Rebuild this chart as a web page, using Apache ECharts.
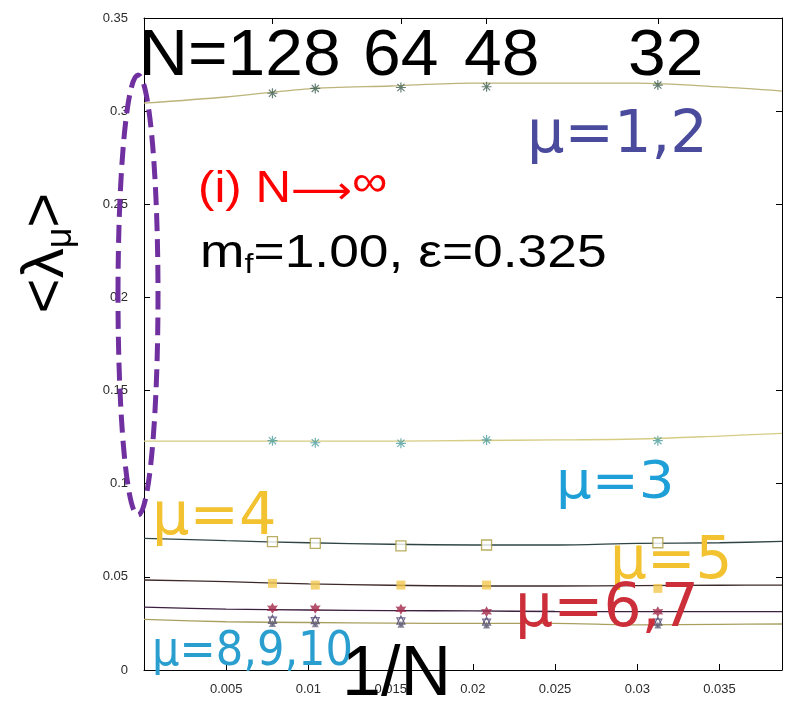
<!DOCTYPE html>
<html>
<head>
<meta charset="utf-8">
<script src="https://cdn.jsdelivr.net/npm/echarts@6/dist/echarts.min.js"></script>
<style>html,body{margin:0;padding:0;background:#fff}#c{width:788px;height:707px}</style>
</head>
<body>
<div id="c"></div>
<script>
// ---- data ----
const Ns = [128, 96, 64, 48, 32];
const invN = Ns.map(n => 1 / n);
const topTickNs = [128, 64, 48, 32];
const fitX = [0, 0.005, 0.01, 0.015, 0.02, 0.025, 0.03, 0.035, 0.0388];

const mu12 = [0.3096, 0.3122, 0.3127, 0.3131, 0.3140];
const mu3 = [0.1231, 0.1220, 0.1217, 0.1235, 0.1231];
const mu4 = [0.0689, 0.0680, 0.0666, 0.0671, 0.0683];
const mu5 = [0.0465, 0.0456, 0.0456, 0.0456, 0.0438];
const mu67 = [0.0331, 0.0331, 0.0326, 0.0313, 0.0313];
const mu8 = [0.0272, 0.0270, 0.0268, 0.0262, 0.0262];
const mu9 = [0.0262, 0.0260, 0.0258, 0.0252, 0.0252];
const mu10 = [0.0250, 0.0248, 0.0246, 0.0242, 0.0242];

const fit12 = [0.3043, 0.3076, 0.3120, 0.3135, 0.3150, 0.3150, 0.3150, 0.3130, 0.3108];
const fit3 = [0.1229, 0.1229, 0.1229, 0.1229, 0.1232, 0.1235, 0.1240, 0.1256, 0.1270];
const fit4 = [0.0707, 0.0694, 0.0683, 0.0675, 0.0671, 0.0671, 0.0680, 0.0683, 0.0690];
const fit5 = [0.0483, 0.0474, 0.0462, 0.0455, 0.0451, 0.0451, 0.0453, 0.0455, 0.0456];
const fit67 = [0.0337, 0.0327, 0.0322, 0.0319, 0.0317, 0.0314, 0.0313, 0.0313, 0.0313];
const fit810 = [0.0272, 0.0259, 0.0255, 0.0252, 0.0250, 0.0250, 0.0242, 0.0245, 0.0247];

const yTicks = { min: 0, max: 0.35, step: 0.05 };
const xTicks = { min: 0, max: 0.0388, step: 0.005 };

// ---- helpers ----
const pts = (xs, ys) => xs.map((x, i) => [x, ys[i]]);
const ASTER = 'path://M0,-5L0,5M-5,0L5,0M-3.6,-3.6L3.6,3.6M-3.6,3.6L3.6,-3.6';
const STAR = 'path://M0,-6L1.6,-2.8L5.2,-3L3.2,0L5.2,3L1.6,2.8L0,6L-1.6,2.8L-5.2,3L-3.2,0L-5.2,-3L-1.6,-2.8Z';

function fitLine(ys, color) {
  return { type: 'line', data: pts(fitX, ys), symbol: 'none', smooth: 0.3,
    lineStyle: { color: color, width: 1.3 }, z: 2, silent: true };
}
function marks(ys, symbol, size, style) {
  return { type: 'scatter', data: pts(invN, ys), symbol: symbol, symbolSize: size,
    itemStyle: style, z: 3, silent: true };
}

const chart = echarts.init(document.getElementById('c'));
const tickFont = { fontFamily: 'Liberation Sans, Arial', fontSize: 13, color: '#2a2a2a' };

const AR = 'Liberation Sans, Arial, sans-serif';
const DV = 'DejaVu Sans, Verdana, sans-serif';
function txt(text, x, y, size, fam, color, extra) {
  return Object.assign({ type: 'text', x: x, y: y, z: 100,
    style: { text: text, font: size + 'px ' + fam, fill: color, align: 'left', verticalAlign: 'middle' } }, extra || {});
}

chart.setOption({
  animation: false,
  backgroundColor: '#ffffff',
  grid: { left: 144, right: 6, top: 18, bottom: 37, show: false },
  xAxis: [{
    type: 'value', min: xTicks.min, max: xTicks.max, interval: xTicks.step, position: 'bottom',
    axisLine: { show: true, lineStyle: { color: '#000', width: 1 } },
    axisTick: { show: true, inside: true, length: 6, lineStyle: { color: '#000' } },
    axisLabel: Object.assign({ margin: 13, showMaxLabel: false,
      formatter: v => (v === 0 || v > 0.036) ? '' : String(+v.toFixed(3)) }, tickFont),
    splitLine: { show: false }
  }, {
    type: 'value', min: xTicks.min, max: xTicks.max, position: 'top',
    axisLine: { show: true, onZero: false, lineStyle: { color: '#000', width: 1 } },
    axisTick: { show: true, inside: true, length: 6, customValues: topTickNs.map(n => 1 / n), lineStyle: { color: '#000' } },
    axisLabel: { show: false }, splitLine: { show: false }
  }],
  yAxis: [{
    type: 'value', min: yTicks.min, max: yTicks.max, interval: yTicks.step, position: 'left',
    axisLine: { show: true, lineStyle: { color: '#000', width: 1 } },
    axisTick: { show: true, inside: true, length: 6, lineStyle: { color: '#000' } },
    axisLabel: Object.assign({ margin: 16 }, tickFont),
    splitLine: { show: false }
  }, {
    type: 'value', min: yTicks.min, max: yTicks.max, interval: yTicks.step, position: 'right',
    axisLine: { show: true, onZero: false, lineStyle: { color: '#000', width: 1 } },
    axisTick: { show: true, inside: true, length: 6, lineStyle: { color: '#000' } },
    axisLabel: { show: false }, splitLine: { show: false }
  }],
  series: [
    fitLine(fit12, '#bdb47a'),
    fitLine(fit3, '#d6cc84'),
    fitLine(fit4, '#2f4545'),
    fitLine(fit5, '#3e2a2a'),
    fitLine(fit67, '#3d2040'),
    fitLine(fit810, '#a9a060'),
    marks(mu12, ASTER, 10, { color: 'none', borderColor: '#3f5f50', borderWidth: 1.2 }),
    marks(mu3, ASTER, 10, { color: 'none', borderColor: '#4c9c9c', borderWidth: 1.2 }),
    marks(mu4, 'rect', 10, { color: '#ffffff', borderColor: '#a89a3c', borderWidth: 1.3 }),
    marks(mu5, 'rect', 9, { color: '#f2c850' }),
    marks(mu67, STAR, 11, { color: '#a3284a' }),
    marks(mu8, 'triangle', 8, { color: 'none', borderColor: '#4a4a6a', borderWidth: 1.2 }),
    marks(mu9, 'path://M0,5L5,-4L-5,-4Z', 8, { color: 'none', borderColor: '#5a4a7a', borderWidth: 1.2 }),
    marks(mu10, 'triangle', 7, { color: '#6a6a80' })
  ],
  graphic: [
    { type: 'ellipse', shape: { cx: 138, cy: 295, rx: 20, ry: 220 }, z: 90,
      style: { fill: 'none', stroke: '#7030a0', lineWidth: 5, lineDash: [18, 8] } },
    txt('N=128', 139, 57, 64, AR, '#000', { scaleX: 1.06 }),
    txt('64', 363, 57, 64, AR, '#000', { scaleX: 1.06 }),
    txt('48', 464, 57, 64, AR, '#000', { scaleX: 1.06 }),
    txt('32', 628, 57, 64, AR, '#000', { scaleX: 1.06 }),
    txt('μ=1,2', 527, 137, 59, DV, '#4b4b9e'),
    { type: 'text', x: 198, y: 190, z: 100, scaleX: 1.12,
      style: { text: '{a|(i) N}{r|⟶}{i|∞}', align: 'left', verticalAlign: 'middle',
        rich: { a: { font: '44px ' + AR, fill: '#ff0000' },
                r: { font: '38px ' + DV, fill: '#ff0000', padding: [6, 0, 0, 0] },
                i: { font: '44px ' + AR, fill: '#ff0000', padding: [0, 0, 12, 0] } } } },
    { type: 'text', x: 200, y: 254, z: 100, scaleX: 1.16,
      style: { text: '{a|m}{s|f}{a|=1.00, ε=0.325}', align: 'left', verticalAlign: 'middle',
        rich: { a: { font: '46px ' + AR, fill: '#000' },
                s: { font: '28px ' + AR, fill: '#000', padding: [22, 0, 0, 0] } } } },
    txt('μ=3', 556, 484, 52, DV, '#1e9fd8', { scaleX: 1.08 }),
    txt('μ=4', 152, 519, 59, DV, '#f2c230'),
    txt('μ=5', 610, 563, 58, DV, '#f2c230'),
    txt('μ=6,7', 515, 610, 60, DV, '#cc2f3a'),
    txt('μ=8,9,10', 152, 653, 48, DV, '#2a9fcf', { scaleX: 0.9 }),
    txt('1/N', 342, 676, 70, AR, '#000'),
    { type: 'text', x: 46, y: 253, rotation: Math.PI / 2, z: 100,
      style: { text: '{a|<λ}{s|μ}{a|>}', align: 'center', verticalAlign: 'middle',
        rich: { a: { font: '60px ' + AR, fill: '#000' },
                s: { font: '36px ' + AR, fill: '#000', padding: [30, 0, 0, 0] } } } }
  ]
});
</script>
</body>
</html>
